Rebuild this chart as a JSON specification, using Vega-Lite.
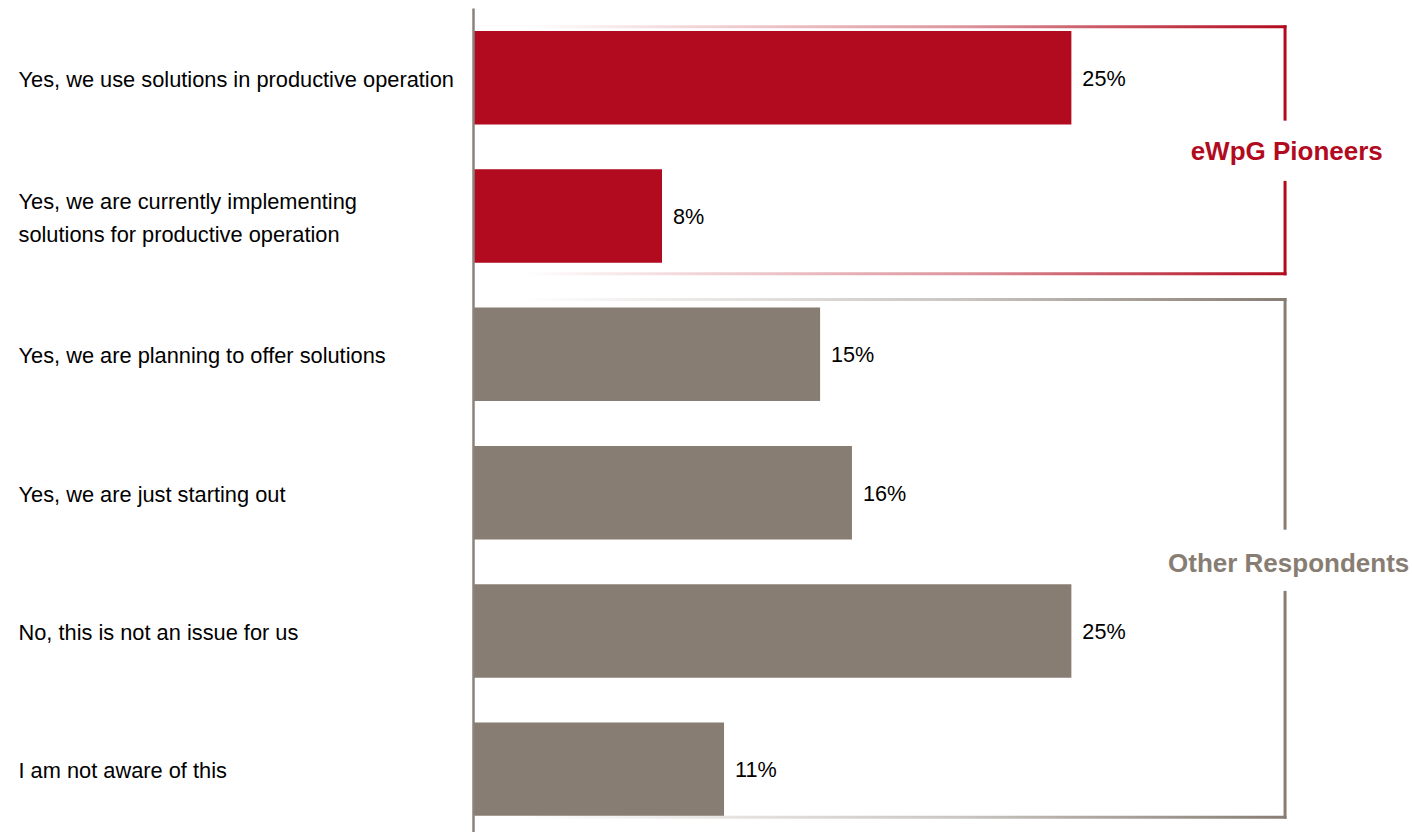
{
  "$schema": "https://vega.github.io/schema/vega-lite/v6.json",
  "autosize": {"type": "none"},
  "padding": {"left": 473, "top": 8, "right": 0, "bottom": 0},
  "width": 939,
  "height": 824,
  "background": "white",
  "config": {
    "view": {"stroke": null},
    "font": "Liberation Sans"
  },
  "datasets": {
    "bars": [
      {"answer": "Yes, we use solutions in productive operation", "value": 24.98, "label": "25%", "group": "eWpG Pioneers"},
      {"answer": "Yes, we are currently implementing solutions for productive operation", "value": 7.89, "label": "8%", "group": "eWpG Pioneers"},
      {"answer": "Yes, we are planning to offer solutions", "value": 14.49, "label": "15%", "group": "Other Respondents"},
      {"answer": "Yes, we are just starting out", "value": 15.82, "label": "16%", "group": "Other Respondents"},
      {"answer": "No, this is not an issue for us", "value": 24.98, "label": "25%", "group": "Other Respondents"},
      {"answer": "I am not aware of this", "value": 10.48, "label": "11%", "group": "Other Respondents"}
    ],
    "vsegs": [
      {"group": "eWpG Pioneers", "x": 33.9, "y": 0.09, "y2": 0.788},
      {"group": "eWpG Pioneers", "x": 33.9, "y": 1.229, "y2": 1.92},
      {"group": "Other Respondents", "x": 33.9, "y": 2.086, "y2": 3.782},
      {"group": "Other Respondents", "x": 33.9, "y": 4.23, "y2": 5.897}
    ],
    "hsegs": [
      {"group": "eWpG Pioneers", "x": 0, "x2": 33.96, "y": 0.101},
      {"group": "eWpG Pioneers", "x": 0, "x2": 33.96, "y": 1.909},
      {"group": "Other Respondents", "x": 0, "x2": 33.96, "y": 2.097},
      {"group": "Other Respondents", "x": 0, "x2": 33.96, "y": 5.886}
    ],
    "titles": [
      {"group": "eWpG Pioneers", "x": 33.97, "y": 1.02},
      {"group": "Other Respondents", "x": 34.05, "y": 4.035}
    ]
  },
  "layer": [
    {
      "data": {"name": "bars"},
      "encoding": {
        "y": {
          "field": "answer",
          "type": "nominal",
          "sort": null,
          "scale": {"paddingInner": 0.324, "paddingOuter": 0.141, "align": 0.59},
          "axis": {
            "title": null,
            "ticks": false,
            "tickSize": 0,
            "domain": true,
            "domainColor": "#8C8279",
            "domainWidth": 2.5,
            "labelAlign": "left",
            "labelBaseline": "middle",
            "labelPadding": 455,
            "labelFont": "Liberation Sans",
            "labelFontSize": 21.8,
            "labelColor": "#000000",
            "labelLimit": 0,
            "labelLineHeight": 33,
            "labelOffset": {"condition": {"test": "datum.value == 'Yes, we are currently implementing solutions for productive operation'", "value": -14}, "value": 2},
            "labelExpr": "datum.value == 'Yes, we are currently implementing solutions for productive operation' ? ['Yes, we are currently implementing', 'solutions for productive operation'] : datum.label",
            "zindex": 1
          }
        },
        "x": {
          "field": "value",
          "type": "quantitative",
          "scale": {"domain": [0, 39.2], "nice": false, "zero": true},
          "axis": null
        }
      },
      "layer": [
        {
          "mark": {"type": "bar"},
          "encoding": {
            "color": {
              "field": "group",
              "type": "nominal",
              "scale": {"domain": ["eWpG Pioneers", "Other Respondents"], "range": ["#B20A1E", "#877D73"]},
              "legend": null
            }
          }
        },
        {
          "mark": {"type": "text", "align": "left", "baseline": "middle", "dx": 11, "dy": 2, "fontSize": 21.6, "font": "Liberation Sans", "color": "#000000"},
          "encoding": {"text": {"field": "label"}}
        }
      ]
    },
    {
      "layer": [
        {
          "data": {"name": "hsegs"},
          "transform": [{"filter": "datum.group == 'eWpG Pioneers'"}],
          "mark": {
            "type": "bar",
            "size": 3,
            "color": {
              "gradient": "linear", "x1": 0, "y1": 0, "x2": 1, "y2": 0,
              "stops": [
                {"offset": 0, "color": "#ffffff"},
                {"offset": 0.06, "color": "#ffffff"},
                {"offset": 0.6, "color": "#DD959D"},
                {"offset": 1, "color": "#B20A1E"}
              ]
            }
          },
          "encoding": {
            "x": {"field": "x", "type": "quantitative", "scale": {"domain": [0, 39.2], "nice": false}, "axis": null},
            "x2": {"field": "x2"},
            "y": {"field": "y", "type": "quantitative", "scale": {"domain": [0, 5.958], "nice": false, "zero": false, "reverse": true}, "axis": null}
          }
        },
        {
          "data": {"name": "hsegs"},
          "transform": [{"filter": "datum.group == 'Other Respondents'"}],
          "mark": {
            "type": "bar",
            "size": 3,
            "color": {
              "gradient": "linear", "x1": 0, "y1": 0, "x2": 1, "y2": 0,
              "stops": [
                {"offset": 0, "color": "#ffffff"},
                {"offset": 0.06, "color": "#ffffff"},
                {"offset": 0.6, "color": "#CAC5C1"},
                {"offset": 1, "color": "#877D73"}
              ]
            }
          },
          "encoding": {
            "x": {"field": "x", "type": "quantitative", "axis": null},
            "x2": {"field": "x2"},
            "y": {"field": "y", "type": "quantitative", "axis": null}
          }
        },
        {
          "data": {"name": "vsegs"},
          "mark": {"type": "rule", "strokeWidth": 3},
          "encoding": {
            "x": {"field": "x", "type": "quantitative", "axis": null},
            "y": {"field": "y", "type": "quantitative", "axis": null},
            "y2": {"field": "y2"},
            "color": {"field": "group", "type": "nominal", "legend": null}
          }
        },
        {
          "data": {"name": "titles"},
          "mark": {"type": "text", "align": "center", "baseline": "middle", "fontSize": 26, "fontWeight": "bold", "font": "Liberation Sans"},
          "encoding": {
            "x": {"field": "x", "type": "quantitative", "axis": null},
            "y": {"field": "y", "type": "quantitative", "axis": null},
            "text": {"field": "group"},
            "color": {"field": "group", "type": "nominal", "legend": null}
          }
        }
      ]
    }
  ],
  "resolve": {"scale": {"y": "independent"}}
}
